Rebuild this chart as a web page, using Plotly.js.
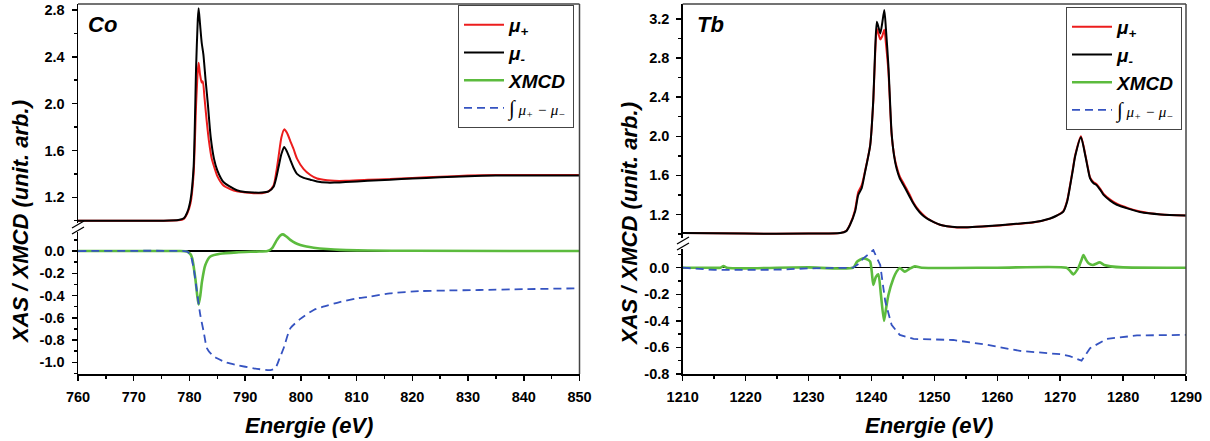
<!DOCTYPE html>
<html>
<head>
<meta charset="utf-8">
<script src="https://cdn.plot.ly/plotly-3.0.1.min.js"></script>
<style>
  html, body { margin: 0; padding: 0; background: #fff; }
  #chart { width: 1210px; height: 441px; }
</style>
</head>
<body>
<div id="chart"></div>
<script>
// ---------- Co L2,3 edge ----------
const coEnergyPlus = [760, 765, 770, 775, 778, 779, 779.6, 780.2, 780.75, 781.2, 781.5, 781.65, 781.9, 782.2, 782.4, 782.7, 783.1, 783.5, 784.0, 784.5, 785.0, 786.1, 787.3, 788.5, 790, 791.5, 793, 794.2, 795.1, 795.6, 796.0, 796.5, 797.0, 797.5, 798.1, 798.7, 799.3, 800.5, 801.7, 802.9, 804.7, 806, 808, 812, 816, 820, 825, 830, 835, 840, 845, 850];
const coMuPlus = [1.0, 1.0, 1.0, 1.0, 1.003, 1.015, 1.06, 1.15, 1.40, 2.0, 2.28, 2.35, 2.25, 2.18, 2.19, 2.05, 1.85, 1.68, 1.53, 1.45, 1.38, 1.30, 1.27, 1.25, 1.24, 1.235, 1.235, 1.25, 1.30, 1.42, 1.55, 1.71, 1.78, 1.75, 1.68, 1.61, 1.53, 1.44, 1.39, 1.36, 1.345, 1.34, 1.34, 1.35, 1.355, 1.365, 1.375, 1.385, 1.39, 1.39, 1.39, 1.39];
const coEnergyMinus = [760, 765, 770, 775, 778, 779, 779.6, 780.2, 780.75, 781.2, 781.5, 781.65, 781.9, 782.2, 782.5, 782.9, 783.3, 783.8, 784.4, 785.0, 786.1, 787.3, 788.5, 790, 791.5, 793, 794.2, 795.1, 795.6, 796.0, 796.5, 797.0, 797.5, 798.1, 798.7, 799.3, 800.5, 801.7, 802.9, 804.7, 806, 808, 812, 816, 820, 825, 830, 835, 840, 845, 850];
const coMuMinus = [1.0, 1.0, 1.0, 1.0, 1.005, 1.02, 1.07, 1.18, 1.46, 2.32, 2.72, 2.815, 2.68, 2.52, 2.42, 2.2, 2.0, 1.72, 1.53, 1.43, 1.33, 1.29, 1.26, 1.245, 1.24, 1.24, 1.25, 1.29, 1.37, 1.46, 1.57, 1.63, 1.59, 1.52, 1.45, 1.40, 1.365, 1.35, 1.335, 1.325, 1.325, 1.33, 1.34, 1.35, 1.36, 1.37, 1.38, 1.385, 1.385, 1.385, 1.385];
const coXmcdEnergy = [760, 770, 778, 779.6, 780.2, 780.5, 781.05, 781.4, 781.65, 781.95, 782.25, 782.85, 783.75, 785.5, 788.5, 792, 794, 794.8, 795.7, 796.3, 796.8, 797.4, 798.1, 799.0, 799.9, 801, 802.3, 804.7, 807, 812, 820, 850];
const coXmcd = [0, 0, 0, -0.005, -0.03, -0.066, -0.245, -0.40, -0.48, -0.40, -0.275, -0.126, -0.05, -0.025, -0.012, -0.005, 0, 0.024, 0.10, 0.14, 0.15, 0.13, 0.10, 0.072, 0.054, 0.04, 0.03, 0.018, 0.01, 0.005, 0.002, 0];
const coIntEnergy = [760, 779, 779.6, 780.2, 780.8, 781.35, 781.95, 782.55, 783.15, 784, 784.95, 786.5, 788.5, 791.5, 794.5, 795.4, 796.2, 796.9, 798.1, 799.9, 802.3, 804, 806.5, 810, 812.4, 816, 821.4, 826, 832, 840, 850];
const coInt = [0, 0, -0.005, -0.036, -0.17, -0.366, -0.575, -0.725, -0.874, -0.93, -0.964, -1.0, -1.024, -1.054, -1.07, -1.054, -0.96, -0.874, -0.695, -0.61, -0.53, -0.50, -0.465, -0.425, -0.41, -0.38, -0.36, -0.355, -0.35, -0.343, -0.335];

// ---------- Tb M4,5 edge ----------
const tbEnergyPlus = [1210, 1220, 1230, 1235, 1236, 1236.6, 1237.4, 1237.9, 1238.45, 1239.0, 1239.8, 1240.3, 1240.6, 1240.85, 1241.1, 1241.4, 1241.7, 1242.05, 1242.3, 1242.7, 1243.2, 1243.6, 1244.0, 1244.5, 1245.1, 1245.6, 1246.1, 1246.6, 1247.2, 1248, 1248.8, 1250, 1250.9, 1252, 1253.6, 1255.2, 1258, 1260.4, 1263, 1265.7, 1268.4, 1269.5, 1270.5, 1271.1, 1271.6, 1272.0, 1272.4, 1273.3, 1274.0, 1274.4, 1274.75, 1275.3, 1275.8, 1276.4, 1276.9, 1278, 1279, 1280.8, 1282.7, 1286, 1290];
const tbMuPlus = [1.01, 1.005, 1.005, 1.01, 1.035, 1.10, 1.25, 1.43, 1.50, 1.65, 1.91, 2.36, 2.85, 3.10, 3.05, 2.99, 3.02, 3.09, 2.95, 2.66, 2.02, 1.81, 1.69, 1.59, 1.52, 1.46, 1.40, 1.33, 1.27, 1.21, 1.165, 1.12, 1.095, 1.08, 1.068, 1.068, 1.078, 1.088, 1.103, 1.118, 1.158, 1.19, 1.235, 1.34, 1.51, 1.66, 1.81, 2.0, 1.81, 1.68, 1.58, 1.53, 1.51, 1.46, 1.41, 1.35, 1.31, 1.265, 1.23, 1.20, 1.19];
const tbEnergyMinus = tbEnergyPlus;
const tbMuMinus = [1.01, 1.005, 1.005, 1.01, 1.03, 1.095, 1.23, 1.40, 1.47, 1.64, 1.905, 2.38, 2.9, 3.17, 3.12, 3.05, 3.15, 3.29, 3.1, 2.72, 2.04, 1.80, 1.67, 1.57, 1.50, 1.44, 1.38, 1.32, 1.26, 1.20, 1.16, 1.12, 1.095, 1.08, 1.07, 1.07, 1.08, 1.09, 1.105, 1.12, 1.16, 1.19, 1.23, 1.33, 1.50, 1.65, 1.80, 1.99, 1.80, 1.67, 1.57, 1.52, 1.50, 1.45, 1.40, 1.34, 1.30, 1.26, 1.225, 1.20, 1.19];
const tbXmcdEnergy = [1210, 1214, 1216, 1216.5, 1217, 1220, 1225, 1230, 1237.1, 1237.7, 1238.7, 1239.4, 1239.8, 1240.05, 1240.3, 1240.7, 1241.1, 1241.5, 1242.0, 1242.35, 1242.7, 1243.5, 1244.0, 1244.5, 1245.3, 1246.0, 1246.9, 1248, 1260, 1271, 1271.5, 1272.1, 1272.9, 1273.4, 1273.7, 1274.1, 1274.5, 1275.2, 1276.3, 1277, 1278, 1280, 1290];
const tbXmcd = [0, 0, 0, 0.013, 0, -0.005, 0, 0.002, 0, 0.045, 0.07, 0.06, 0.045, -0.03, -0.13, -0.07, -0.05, -0.2, -0.40, -0.30, -0.205, -0.08, -0.03, -0.002, -0.03, -0.01, 0.01, 0, 0, 0, -0.02, -0.05, 0.0, 0.06, 0.095, 0.06, 0.033, 0.02, 0.04, 0.02, 0.01, 0.002, 0];
const tbIntEnergy = [1210, 1213, 1215, 1220, 1225, 1230, 1235, 1237.1, 1238, 1238.7, 1239.5, 1240.3, 1240.8, 1241.4, 1241.8, 1242.2, 1243.2, 1244.5, 1246.7, 1253.0, 1258.3, 1263.6, 1270.0, 1271.5, 1273.4, 1274.75, 1277.4, 1282.2, 1289.1, 1290];
const tbInt = [0, -0.01, -0.017, -0.017, -0.015, -0.005, 0, 0, 0.03, 0.07, 0.1, 0.133, 0.08, 0.02, -0.12, -0.255, -0.43, -0.506, -0.536, -0.544, -0.58, -0.626, -0.651, -0.665, -0.70, -0.606, -0.536, -0.51, -0.506, -0.506];

// ---------- labels and ticks ----------
const seriesNames = [
  '<i>μ</i><sub>+</sub>',
  '<i>μ</i><sub>-</sub>',
  'XMCD',
  '<span style="font-family:\'Liberation Serif\',serif;font-weight:normal;font-style:italic;font-size:15px"><span style="font-size:21px;font-style:normal">∫</span> <i>μ</i><sub>+</sub> − <i>μ</i><sub>−</sub></span>'
];
const panelLabels = ['Co', 'Tb'];
const yTitle = 'XAS / XMCD (unit. arb.)';
const xTitle = 'Energie (eV)';
const coXTickVals = [760, 770, 780, 790, 800, 810, 820, 830, 840, 850];
const coXTickText = ['760', '770', '780', '790', '800', '810', '820', '830', '840', '850'];
const tbXTickVals = [1210, 1220, 1230, 1240, 1250, 1260, 1270, 1280, 1290];
const tbXTickText = ['1210', '1220', '1230', '1240', '1250', '1260', '1270', '1280', '1290'];
const coUpperTickVals = [1.2, 1.6, 2.0, 2.4, 2.8];
const coUpperTickText = ['1.2', '1.6', '2.0', '2.4', '2.8'];
const coLowerTickVals = [0.0, -0.2, -0.4, -0.6, -0.8, -1.0];
const coLowerTickText = ['0.0', '-0.2', '-0.4', '-0.6', '-0.8', '-1.0'];
const tbUpperTickVals = [1.2, 1.6, 2.0, 2.4, 2.8, 3.2];
const tbUpperTickText = ['1.2', '1.6', '2.0', '2.4', '2.8', '3.2'];
const tbLowerTickVals = [0.0, -0.2, -0.4, -0.6, -0.8];
const tbLowerTickText = ['0.0', '-0.2', '-0.4', '-0.6', '-0.8'];

const RED = '#ec1d1d', BLACK = '#000000', GREEN = '#5cbb3e', BLUE = '#3553c1';
const FONT = 'Arial, "Liberation Sans", sans-serif';
const bold = arr => arr.map(s => '<b>' + s + '</b>');

function traces(e1, y1, e2, y2, e3, y3, e4, y4, xa, yUp, yLow, leg, intShape) {
  return [
    {x: e1, y: y1, xaxis: xa, yaxis: yUp, name: seriesNames[0], legend: leg, mode: 'lines',
     line: {color: RED, width: 2, shape: 'spline', smoothing: 0.6}},
    {x: e2, y: y2, xaxis: xa, yaxis: yUp, name: seriesNames[1], legend: leg, mode: 'lines',
     line: {color: BLACK, width: 2, shape: 'spline', smoothing: 0.6}},
    {x: e3, y: y3, xaxis: xa, yaxis: yLow, name: seriesNames[2], legend: leg, mode: 'lines',
     line: {color: GREEN, width: 2.6, shape: 'spline', smoothing: 0.6}},
    {x: e4, y: y4, xaxis: xa, yaxis: yLow, name: seriesNames[3], legend: leg, mode: 'lines',
     line: {color: BLUE, width: 1.8, dash: '8px,5px', shape: intShape, smoothing: 0.6}}
  ];
}

const data = [].concat(
  traces(coEnergyPlus, coMuPlus, coEnergyMinus, coMuMinus, coXmcdEnergy, coXmcd, coIntEnergy, coInt, 'x', 'y2', 'y', 'legend', 'spline'),
  traces(tbEnergyPlus, tbMuPlus, tbEnergyMinus, tbMuMinus, tbXmcdEnergy, tbXmcd, tbIntEnergy, tbInt, 'x2', 'y4', 'y3', 'legend2', 'linear')
);

// pixel helpers for paper coordinates
const L = 78, R = 24, T = 4, B = 67, W = 1210, H = 441;
const PW = W - L - R, PH = H - T - B;
const px = v => (v - L) / PW;
const py = v => (H - B - v) / PH;

const tickFont = {family: FONT, size: 14.5, color: '#000'};
const minorTicks = {ticks: 'outside', ticklen: 3, tickwidth: 1.5, tickcolor: '#000'};
const baseAxis = {
  showline: true, linecolor: '#000', linewidth: 1.5,
  ticks: 'outside', ticklen: 5, tickwidth: 1.5, tickcolor: '#000',
  showgrid: false, zeroline: false, tickfont: tickFont, fixedrange: true
};

const layout = {
  width: W, height: H,
  margin: {l: L, r: R, t: T, b: B, pad: 0},
  paper_bgcolor: '#fff', plot_bgcolor: '#fff',
  font: {family: FONT, color: '#000'},
  showlegend: true,
  xaxis: Object.assign({}, baseAxis, {domain: [0, px(579.5)], anchor: 'y', range: [760, 850],
    tickvals: coXTickVals, ticktext: bold(coXTickText),
    minor: Object.assign({dtick: 5, tick0: 765}, minorTicks), ticklabelstandoff: 4}),
  yaxis: Object.assign({}, baseAxis, {domain: [0, py(232)], anchor: 'x', range: [-1.105, 0.171],
    tickvals: coLowerTickVals, ticktext: bold(coLowerTickText),
    minor: Object.assign({dtick: 0.1, tick0: 0}, minorTicks),
    zeroline: true, zerolinecolor: '#000', zerolinewidth: 1.2, ticklabelstandoff: 4}),
  yaxis2: Object.assign({}, baseAxis, {domain: [py(223), 1], anchor: 'x', range: [0.98, 2.851],
    tickvals: coUpperTickVals, ticktext: bold(coUpperTickText),
    minor: Object.assign({dtick: 0.2, tick0: 1.2}, minorTicks), ticklabelstandoff: 4}),
  xaxis2: Object.assign({}, baseAxis, {domain: [px(682.7), 1], anchor: 'y3', range: [1210, 1290],
    tickvals: tbXTickVals, ticktext: bold(tbXTickText),
    minor: Object.assign({dtick: 5, tick0: 1215}, minorTicks), ticklabelstandoff: 4}),
  yaxis3: Object.assign({}, baseAxis, {domain: [0, py(249)], anchor: 'x2', range: [-0.8, 0.1406],
    tickvals: tbLowerTickVals, ticktext: bold(tbLowerTickText),
    minor: Object.assign({dtick: 0.1, tick0: 0}, minorTicks),
    zeroline: true, zerolinecolor: '#000', zerolinewidth: 1.2, ticklabelstandoff: 4}),
  yaxis4: Object.assign({}, baseAxis, {domain: [py(238), 1], anchor: 'x2', range: [0.96, 3.352],
    tickvals: tbUpperTickVals, ticktext: bold(tbUpperTickText),
    minor: Object.assign({dtick: 0.2, tick0: 1.2}, minorTicks), ticklabelstandoff: 4}),
  legend: {x: px(574), xanchor: 'right', y: py(5), yanchor: 'top',
    bgcolor: '#fff', bordercolor: '#444', borderwidth: 1,
    font: {family: FONT, size: 19, color: '#000', weight: 'bold', style: 'italic'},
    itemwidth: 40, tracegroupgap: 0, itemclick: false, itemdoubleclick: false},
  legend2: {x: px(1182), xanchor: 'right', y: py(7), yanchor: 'top',
    bgcolor: '#fff', bordercolor: '#444', borderwidth: 1,
    font: {family: FONT, size: 19, color: '#000', weight: 'bold', style: 'italic'},
    itemwidth: 40, tracegroupgap: 0, itemclick: false, itemdoubleclick: false},
  shapes: [
    {type: 'line', xref: 'paper', yref: 'paper', x0: 0, x1: px(579.5), y0: 1, y1: 1, line: {color: '#444', width: 1.5}},
    {type: 'line', xref: 'paper', yref: 'paper', x0: px(579.5), x1: px(579.5), y0: 0, y1: 1, line: {color: '#444', width: 1.5}},
    {type: 'line', xref: 'paper', yref: 'paper', x0: px(682.7), x1: 1, y0: 1, y1: 1, line: {color: '#444', width: 1.5}},
    {type: 'line', xref: 'paper', yref: 'paper', x0: 1, x1: 1, y0: 0, y1: 1, line: {color: '#444', width: 1.5}},
    {type: 'line', xref: 'paper', yref: 'paper', x0: px(72), y0: py(228), x1: px(84), y1: py(221), line: {color: '#000', width: 1.3}},
    {type: 'line', xref: 'paper', yref: 'paper', x0: px(72), y0: py(234), x1: px(84), y1: py(227), line: {color: '#000', width: 1.3}},
    {type: 'line', xref: 'paper', yref: 'paper', x0: px(677), y0: py(244), x1: px(689), y1: py(237), line: {color: '#000', width: 1.3}},
    {type: 'line', xref: 'paper', yref: 'paper', x0: px(677), y0: py(250), x1: px(689), y1: py(243), line: {color: '#000', width: 1.3}}
  ],
  annotations: [
    {text: '<b><i>' + panelLabels[0] + '</i></b>', xref: 'paper', yref: 'paper', x: px(86), y: py(25), xanchor: 'left', yanchor: 'middle', showarrow: false,
     font: {family: FONT, size: 22, color: '#000'}},
    {text: '<b><i>' + panelLabels[1] + '</i></b>', xref: 'paper', yref: 'paper', x: px(695), y: py(25), xanchor: 'left', yanchor: 'middle', showarrow: false,
     font: {family: FONT, size: 22, color: '#000'}},
    {text: '<b><i>' + yTitle + '</i></b>', xref: 'paper', yref: 'paper', x: px(20), y: py(222), xanchor: 'center', yanchor: 'middle', textangle: -90, showarrow: false,
     font: {family: FONT, size: 22, color: '#000'}},
    {text: '<b><i>' + yTitle + '</i></b>', xref: 'paper', yref: 'paper', x: px(630), y: py(224), xanchor: 'center', yanchor: 'middle', textangle: -90, showarrow: false,
     font: {family: FONT, size: 22, color: '#000'}},
    {text: '<b><i>' + xTitle + '</i></b>', xref: 'paper', yref: 'paper', x: px(309), y: py(425), xanchor: 'center', yanchor: 'middle', showarrow: false,
     font: {family: FONT, size: 22, color: '#000'}},
    {text: '<b><i>' + xTitle + '</i></b>', xref: 'paper', yref: 'paper', x: px(929), y: py(425), xanchor: 'center', yanchor: 'middle', showarrow: false,
     font: {family: FONT, size: 22, color: '#000'}}
  ]
};

Plotly.newPlot('chart', data, layout, {staticPlot: true, displayModeBar: false});
</script>
</body>
</html>
